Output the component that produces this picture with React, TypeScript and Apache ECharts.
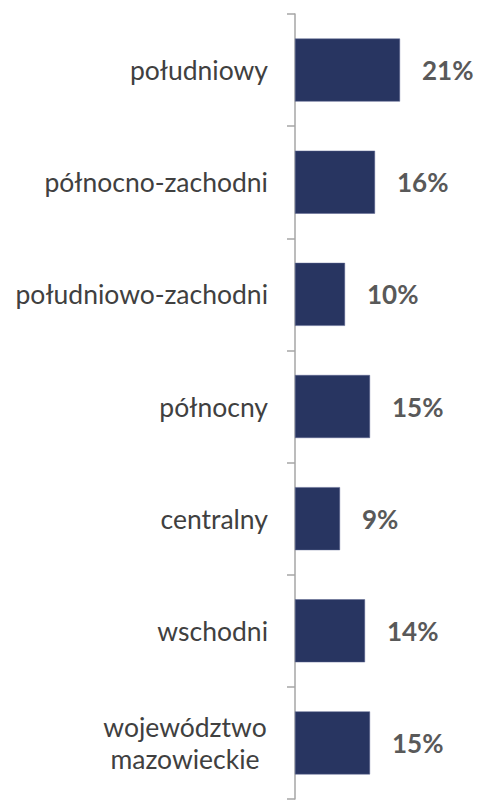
import React, { useEffect, useRef } from "react";
import * as echarts from "echarts";

const categories = [
  "południowy",
  "północno-zachodni",
  "południowo-zachodni",
  "północny",
  "centralny",
  "wschodni",
  "województwo\nmazowieckie",
];
const values = [21, 16, 10, 15, 9, 14, 15];

export default function App() {
  const ref = useRef<HTMLDivElement>(null);
  useEffect(() => {
    if (!ref.current) return;
    const chart = echarts.init(ref.current, null, { renderer: "svg" });
    const labelFont = { fontFamily: "Lato", fontSize: 26.5, color: "#404040" };
    chart.setOption({
      animation: false,
      backgroundColor: "#ffffff",
      grid: { left: 295, top: 14, width: 150, height: 785 },
      xAxis: { type: "value", min: 0, max: 30, show: false },
      yAxis: {
        type: "category",
        inverse: true,
        data: categories,
        axisLine: { show: true, lineStyle: { color: "#a6a6a6", width: 1.5 } },
        axisTick: { show: true, length: 8, lineStyle: { color: "#a6a6a6", width: 1.5 } },
        axisLabel: {
          margin: 27,
          ...labelFont,
          lineHeight: 32,
          align: "right",
          formatter: (v: string) =>
            v.includes("\n")
              ? v
                  .split("\n")
                  .map((s) => "{c|" + s + "}")
                  .join("\n")
              : v,
          rich: {
            c: { ...labelFont, lineHeight: 32, width: 166, align: "center" },
          },
        },
      },
      series: [
        {
          type: "bar",
          data: values,
          barWidth: 63,
          itemStyle: { color: "#283561", borderColor: "#5a6590", borderWidth: 0.5 },
          label: {
            show: true,
            position: "right",
            distance: 22,
            formatter: "{c}%",
            fontFamily: "Lato",
            fontWeight: "bold",
            fontSize: 26,
            color: "#595959",
          },
        },
      ],
    });
    return () => chart.dispose();
  }, []);
  return (
    <div
      ref={ref}
      style={{ width: 479, height: 801, position: "absolute", left: 0, top: 0 }}
    />
  );
}
